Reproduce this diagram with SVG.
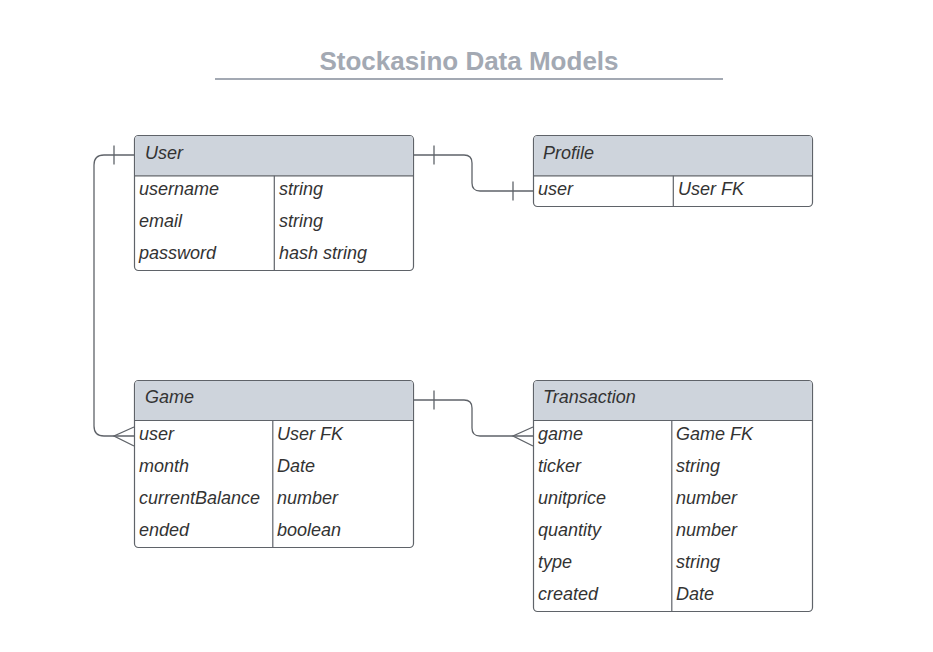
<svg xmlns="http://www.w3.org/2000/svg" width="933" height="652" viewBox="0 0 933 652">
<style>
.box{fill:#ffffff;stroke:#5f6369;stroke-width:1.2}
.hdr{fill:#ced4dc}
.sep{stroke:#5f6369;stroke-width:1.2;fill:none}
.t{font-family:"Liberation Sans",Arial,sans-serif;font-size:18px;font-style:italic;fill:#333333}
.conn{fill:none;stroke:#5f6369;stroke-width:1.3}
.title{font-family:"Liberation Sans",Arial,sans-serif;font-size:26px;font-weight:bold;fill:#a3a9b3}
</style>
<rect width="933" height="652" fill="#ffffff"/>
<g id="title">
<text class="title" x="469" y="70" text-anchor="middle">Stockasino Data Models</text>
<line x1="215" y1="79" x2="723" y2="79" stroke="#a3a9b3" stroke-width="2"/>
</g>
<g id="connectors">
<path class="conn" d="M134 155 H104 Q94 155 94 165 V426 Q94 436 104 436 H134"/>
<line class="conn" x1="114" y1="145.5" x2="114" y2="164.5"/>
<path class="conn" d="M134 427 L114 436 L134 446"/>
<path class="conn" d="M414 155 H464 Q472 155 472 163 V183 Q472 191 480 191 H533"/>
<line class="conn" x1="434" y1="145.5" x2="434" y2="164.5"/>
<line class="conn" x1="513" y1="181.5" x2="513" y2="200.5"/>
<path class="conn" d="M414 400 H464 Q472 400 472 408 V428 Q472 436 480 436 H533"/>
<line class="conn" x1="434" y1="390.5" x2="434" y2="409.5"/>
<path class="conn" d="M533 427 L513 436 L533 446"/>
</g>
<g id="user">
<rect class="box" x="134.5" y="135.5" width="279" height="135" rx="4"/>
<path class="hdr" d="M138.5 136.1 H409.5 Q412.9 136.1 412.9 139.5 V175.5 H135.1 V139.5 Q135.1 136.1 138.5 136.1 Z"/>
<line class="sep" x1="134.5" y1="175.8" x2="413.5" y2="175.8"/>
<line class="sep" x1="274.3" y1="175.8" x2="274.3" y2="270.5"/>
<text class="t" x="145" y="159">User</text>
<text class="t" x="139" y="195">username</text>
<text class="t" x="279" y="195">string</text>
<text class="t" x="139" y="227">email</text>
<text class="t" x="279" y="227">string</text>
<text class="t" x="139" y="259">password</text>
<text class="t" x="279" y="259">hash string</text>
</g>
<g id="profile">
<rect class="box" x="533.5" y="135.5" width="279" height="71" rx="4"/>
<path class="hdr" d="M537.5 136.1 H808.5 Q811.9 136.1 811.9 139.5 V175.5 H534.1 V139.5 Q534.1 136.1 537.5 136.1 Z"/>
<line class="sep" x1="533.5" y1="175.8" x2="812.5" y2="175.8"/>
<line class="sep" x1="673.3" y1="175.8" x2="673.3" y2="206.5"/>
<text class="t" x="543" y="159">Profile</text>
<text class="t" x="538" y="195">user</text>
<text class="t" x="678" y="195">User FK</text>
</g>
<g id="game">
<rect class="box" x="134.5" y="380.5" width="279" height="167" rx="4"/>
<path class="hdr" d="M138.5 381.1 H409.5 Q412.9 381.1 412.9 384.5 V420.2 H135.1 V384.5 Q135.1 381.1 138.5 381.1 Z"/>
<line class="sep" x1="134.5" y1="420.5" x2="413.5" y2="420.5"/>
<line class="sep" x1="272.8" y1="420.5" x2="272.8" y2="547.5"/>
<text class="t" x="145" y="403">Game</text>
<text class="t" x="139" y="440">user</text>
<text class="t" x="277" y="440">User FK</text>
<text class="t" x="139" y="472">month</text>
<text class="t" x="277" y="472">Date</text>
<text class="t" x="139" y="504">currentBalance</text>
<text class="t" x="277" y="504">number</text>
<text class="t" x="139" y="536">ended</text>
<text class="t" x="277" y="536">boolean</text>
</g>
<g id="transaction">
<rect class="box" x="533.5" y="380.5" width="279" height="231" rx="4"/>
<path class="hdr" d="M537.5 381.1 H808.5 Q811.9 381.1 811.9 384.5 V420.2 H534.1 V384.5 Q534.1 381.1 537.5 381.1 Z"/>
<line class="sep" x1="533.5" y1="420.5" x2="812.5" y2="420.5"/>
<line class="sep" x1="671.8" y1="420.5" x2="671.8" y2="611.5"/>
<text class="t" x="543" y="403">Transaction</text>
<text class="t" x="538" y="440">game</text>
<text class="t" x="676" y="440">Game FK</text>
<text class="t" x="538" y="472">ticker</text>
<text class="t" x="676" y="472">string</text>
<text class="t" x="538" y="504">unitprice</text>
<text class="t" x="676" y="504">number</text>
<text class="t" x="538" y="536">quantity</text>
<text class="t" x="676" y="536">number</text>
<text class="t" x="538" y="568">type</text>
<text class="t" x="676" y="568">string</text>
<text class="t" x="538" y="600">created</text>
<text class="t" x="676" y="600">Date</text>
</g>
</svg>
